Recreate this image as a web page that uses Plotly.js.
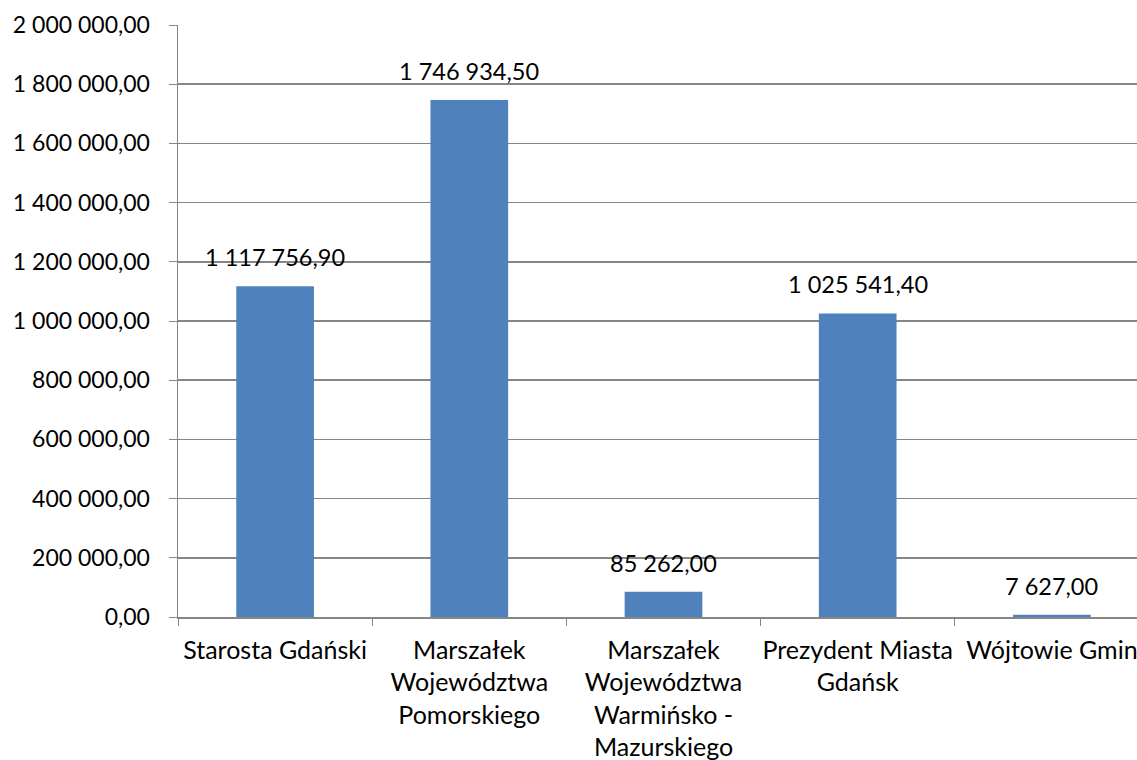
<!DOCTYPE html>
<html><head><meta charset="utf-8">
<script src="https://cdn.plot.ly/plotly-3.0.1.min.js"></script>
<style>html,body{margin:0;padding:0;overflow:hidden;background:#fff}</style>
</head><body><div id="chart"></div>
<script>
const categories = [
  "Starosta Gdański",
  "Marszałek<br>Województwa<br>Pomorskiego",
  "Marszałek<br>Województwa<br>Warmińsko -<br>Mazurskiego",
  "Prezydent Miasta<br>Gdańsk",
  "Wójtowie Gmin"
];
const values = [1117756.90, 1746934.50, 85262.00, 1025541.40, 7627.00];
const valueLabels = ["1 117 756,90", "1 746 934,50", "85 262,00", "1 025 541,40", "7 627,00"];
const yTicks = [0,200000,400000,600000,800000,1000000,1200000,1400000,1600000,1800000,2000000];

const font = "Lato, 'Open Sans', sans-serif";
const FS = 23;
const trace = {
  type: 'bar', x: categories, y: values,
  marker: {color: '#4F81BD', line: {width: 0}},
  hoverinfo: 'none'
};
const annotations = categories.map((c, i) => ({
  x: c, y: values[i], xref: 'x', yref: 'y',
  text: valueLabels[i], showarrow: false,
  xanchor: 'center', yanchor: 'bottom', yshift: 13,
  font: {family: font, size: 23.5, color: '#000'}
}));
const layout = {
  width: 1160, height: 760,
  margin: {l: 177.5, r: 10.5, t: 24.5, b: 142.5},
  separators: ', ',
  bargap: 0.6,
  showlegend: false,
  annotations: annotations,
  paper_bgcolor: '#fff', plot_bgcolor: '#fff',
  font: {family: font, size: FS, color: '#000'},
  xaxis: {
    type: 'category', range: [-0.5, 4.5], tickangle: 0,
    showline: true, linecolor: '#868686', linewidth: 1.5,
    ticks: 'outside', ticklen: 7, tickcolor: '#868686', tickson: 'boundaries',
    ticklabelstandoff: 10,
    showgrid: false, tickfont: {family: font, size: 25, color: '#000'}
  },
  yaxis: {
    range: [0, 2000000], tickvals: yTicks, tickformat: ',.2f',
    showline: true, linecolor: '#868686', linewidth: 1.5,
    ticks: 'outside', ticklen: 8, tickcolor: '#868686',
    ticklabelstandoff: 14,
    showgrid: true, gridcolor: '#868686', gridwidth: 1.5,
    zeroline: false, tickfont: {family: font, size: FS, color: '#000'}
  }
};
Plotly.newPlot('chart', [trace], layout, {displayModeBar: false, staticPlot: true});
</script></body></html>
